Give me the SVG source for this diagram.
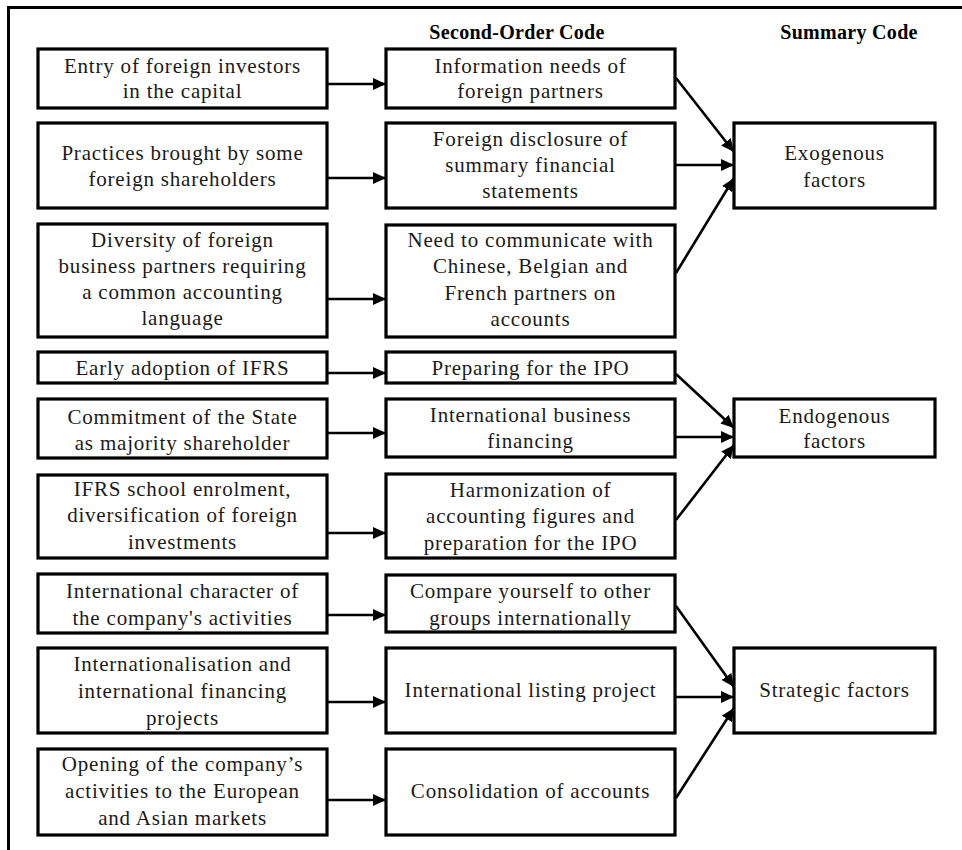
<svg xmlns="http://www.w3.org/2000/svg" width="962" height="850" viewBox="0 0 962 850">
<defs>
<style>
.box{fill:#fff;stroke:#000;stroke-width:3.2}
.t{font-family:"Liberation Serif","Times New Roman",serif;font-size:21px;letter-spacing:0.8px;text-anchor:middle;fill:#1a1a1a}
.h{font-family:"Liberation Serif","Times New Roman",serif;font-size:20px;font-weight:bold;text-anchor:middle;fill:#000;letter-spacing:0.3px}
.c{stroke:#000;stroke-width:2.6;fill:none;marker-end:url(#ah)}
.frame{stroke:#000;stroke-width:3;fill:none}
</style>
<marker id="ah" markerUnits="userSpaceOnUse" markerWidth="13" markerHeight="12" refX="13" refY="6" orient="auto">
<path d="M0,0 L13,6 L0,12 z" fill="#000"/>
</marker>
</defs>
<rect x="0" y="0" width="962" height="850" fill="#fff"/>
<path class="frame" d="M8.5,850 V7.5 H962"/>
<g id="headers">
<text class="h" x="517" y="39">Second-Order Code</text>
<text class="h" x="849" y="39">Summary Code</text>
</g>
<g id="L1"><rect class="box" x="38" y="49" width="289" height="59"/>
<text class="t" x="182.5" y="73">Entry of foreign investors</text><text class="t" x="182.5" y="98">in the capital</text></g>
<g id="L2"><rect class="box" x="38" y="123" width="289" height="85"/>
<text class="t" x="182.5" y="160">Practices brought by some</text><text class="t" x="182.5" y="186">foreign shareholders</text></g>
<g id="L3"><rect class="box" x="38" y="224" width="289" height="113"/>
<text class="t" x="182.5" y="247">Diversity of foreign</text><text class="t" x="182.5" y="273">business partners requiring</text><text class="t" x="182.5" y="299">a common accounting</text><text class="t" x="182.5" y="325">language</text></g>
<g id="L4"><rect class="box" x="38" y="352" width="289" height="31"/>
<text class="t" x="182.5" y="375">Early adoption of IFRS</text></g>
<g id="L5"><rect class="box" x="38" y="399" width="289" height="59"/>
<text class="t" x="182.5" y="424">Commitment of the State</text><text class="t" x="182.5" y="450">as majority shareholder</text></g>
<g id="L6"><rect class="box" x="38" y="475" width="289" height="83"/>
<text class="t" x="182.5" y="496">IFRS school enrolment,</text><text class="t" x="182.5" y="522">diversification of foreign</text><text class="t" x="182.5" y="549">investments</text></g>
<g id="L7"><rect class="box" x="38" y="574" width="289" height="59"/>
<text class="t" x="182.5" y="598">International character of</text><text class="t" x="182.5" y="625">the company's activities</text></g>
<g id="L8"><rect class="box" x="38" y="648" width="289" height="85"/>
<text class="t" x="182.5" y="671">Internationalisation and</text><text class="t" x="182.5" y="698">international financing</text><text class="t" x="182.5" y="725">projects</text></g>
<g id="L9"><rect class="box" x="38" y="749" width="289" height="86"/>
<text class="t" x="182.5" y="771">Opening of the company’s</text><text class="t" x="182.5" y="798">activities to the European</text><text class="t" x="182.5" y="825">and Asian markets</text></g>
<g id="M1"><rect class="box" x="386" y="49" width="289" height="59"/>
<text class="t" x="530.5" y="73">Information needs of</text><text class="t" x="530.5" y="98">foreign partners</text></g>
<g id="M2"><rect class="box" x="386" y="123" width="289" height="85"/>
<text class="t" x="530.5" y="146">Foreign disclosure of</text><text class="t" x="530.5" y="172">summary financial</text><text class="t" x="530.5" y="198">statements</text></g>
<g id="M3"><rect class="box" x="386" y="225" width="289" height="112"/>
<text class="t" x="530.5" y="247">Need to communicate with</text><text class="t" x="530.5" y="273">Chinese, Belgian and</text><text class="t" x="530.5" y="300">French partners on</text><text class="t" x="530.5" y="326">accounts</text></g>
<g id="M4"><rect class="box" x="386" y="352" width="289" height="31"/>
<text class="t" x="530.5" y="375">Preparing for the IPO</text></g>
<g id="M5"><rect class="box" x="386" y="399" width="289" height="58"/>
<text class="t" x="530.5" y="422">International business</text><text class="t" x="530.5" y="448">financing</text></g>
<g id="M6"><rect class="box" x="386" y="474" width="289" height="84"/>
<text class="t" x="530.5" y="497">Harmonization of</text><text class="t" x="530.5" y="523">accounting figures and</text><text class="t" x="530.5" y="550">preparation for the IPO</text></g>
<g id="M7"><rect class="box" x="386" y="575" width="289" height="57"/>
<text class="t" x="530.5" y="598">Compare yourself to other</text><text class="t" x="530.5" y="625">groups internationally</text></g>
<g id="M8"><rect class="box" x="386" y="648" width="289" height="85"/>
<text class="t" x="530.5" y="697">International listing project</text></g>
<g id="M9"><rect class="box" x="386" y="749" width="289" height="86"/>
<text class="t" x="530.5" y="798">Consolidation of accounts</text></g>
<g id="R1"><rect class="box" x="734" y="123" width="201" height="85"/>
<text class="t" x="834.5" y="160">Exogenous</text><text class="t" x="834.5" y="187">factors</text></g>
<g id="R2"><rect class="box" x="734" y="399" width="201" height="58"/>
<text class="t" x="834.5" y="423">Endogenous</text><text class="t" x="834.5" y="448">factors</text></g>
<g id="R3"><rect class="box" x="734" y="648" width="201" height="85"/>
<text class="t" x="834.5" y="697">Strategic factors</text></g>
<g id="connectors">
<line class="c" x1="328" y1="84" x2="386" y2="84"/>
<line class="c" x1="328" y1="178" x2="386" y2="178"/>
<line class="c" x1="328" y1="299" x2="386" y2="299"/>
<line class="c" x1="328" y1="373" x2="386" y2="373"/>
<line class="c" x1="328" y1="433" x2="386" y2="433"/>
<line class="c" x1="328" y1="533" x2="386" y2="533"/>
<line class="c" x1="328" y1="615" x2="386" y2="615"/>
<line class="c" x1="328" y1="702" x2="386" y2="702"/>
<line class="c" x1="328" y1="800" x2="386" y2="800"/>
<line class="c" x1="676" y1="78" x2="734" y2="152"/>
<line class="c" x1="676" y1="165" x2="734" y2="165"/>
<line class="c" x1="676" y1="273" x2="734" y2="178"/>
<line class="c" x1="676" y1="374" x2="734" y2="428"/>
<line class="c" x1="676" y1="437" x2="734" y2="437"/>
<line class="c" x1="676" y1="520" x2="734" y2="445"/>
<line class="c" x1="676" y1="606" x2="734" y2="687"/>
<line class="c" x1="676" y1="697" x2="734" y2="697"/>
<line class="c" x1="676" y1="798" x2="734" y2="708"/>
</g>
</svg>
